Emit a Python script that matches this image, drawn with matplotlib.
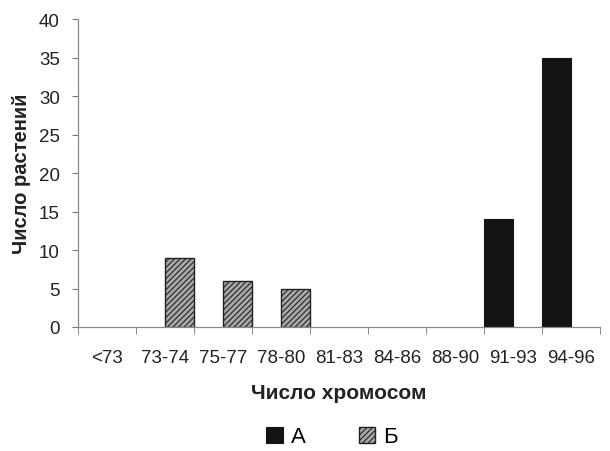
import matplotlib
matplotlib.use("Agg")
import matplotlib.pyplot as plt
from matplotlib.patches import Patch
import numpy as np

categories = ["<73", "73-74", "75-77", "78-80", "81-83", "84-86", "88-90", "91-93", "94-96"]
series_a = [0, 0, 0, 0, 0, 0, 0, 14, 35]
series_b = [0, 9, 6, 5, 0, 0, 0, 0, 0]
yticks = [0, 5, 10, 15, 20, 25, 30, 35, 40]

plt.rcParams['font.family'] = ['Liberation Sans', 'DejaVu Sans']
plt.rcParams['hatch.linewidth'] = 0.8
plt.rcParams['hatch.color'] = '#333333'

fig = plt.figure(figsize=(6.10, 4.52), dpi=100)
W, H = 610, 452
ax = fig.add_axes([78 / W, 1 - 328 / H, (600 - 78) / W, (328 - 20) / H])

style_a = dict(facecolor='#141414', linewidth=0.8)
style_b = dict(facecolor='#a8a8a8', linewidth=1.0, hatch='//////')

x = np.arange(len(categories))
w = 0.5
edge_a = ['#141414' if v > 0 else 'none' for v in series_a]
edge_b = ['#222222' if v > 0 else 'none' for v in series_b]
ax.bar(x - w / 2, series_a, width=w, edgecolor=edge_a, **style_a)
ax.bar(x + w / 2, series_b, width=w, edgecolor=edge_b, **style_b)

ax.set_xlim(-0.5, len(categories) - 0.5)
ax.set_ylim(0, 40)
ax.set_yticks(yticks)
ax.set_xticks(x)
ax.set_xticklabels(categories, fontsize=13.5, color='#222222')
ax.tick_params(axis='x', length=0, pad=16)
ax.set_xticks(np.arange(len(categories) + 1) - 0.5, minor=True)
ax.tick_params(axis='x', which='minor', length=5, color='#777777')
ax.tick_params(axis='y', labelsize=13.5, length=4, color='#777777', labelcolor='#222222', pad=9)

for s in ['top', 'right']:
    ax.spines[s].set_visible(False)
for s in ['left', 'bottom']:
    ax.spines[s].set_color('#888888')
    ax.spines[s].set_linewidth(0.9)

ax.set_ylabel('Число растений', fontsize=14.5, fontweight='bold', color='#222222', labelpad=6)
ax.set_xlabel('Число хромосом', fontsize=15, fontweight='bold', color='#222222', labelpad=12)

handles = [Patch(edgecolor='#141414', label='А', **style_a),
           Patch(edgecolor='#222222', label='Б', **style_b)]
fig.legend(handles=handles, loc='center', bbox_to_anchor=(332 / W, 1 - 438 / H), ncol=2,
           frameon=False, fontsize=16, handlelength=0.75, handleheight=0.75,
           columnspacing=2.4, handletextpad=0.35)

fig.savefig('out.png', dpi=100)
